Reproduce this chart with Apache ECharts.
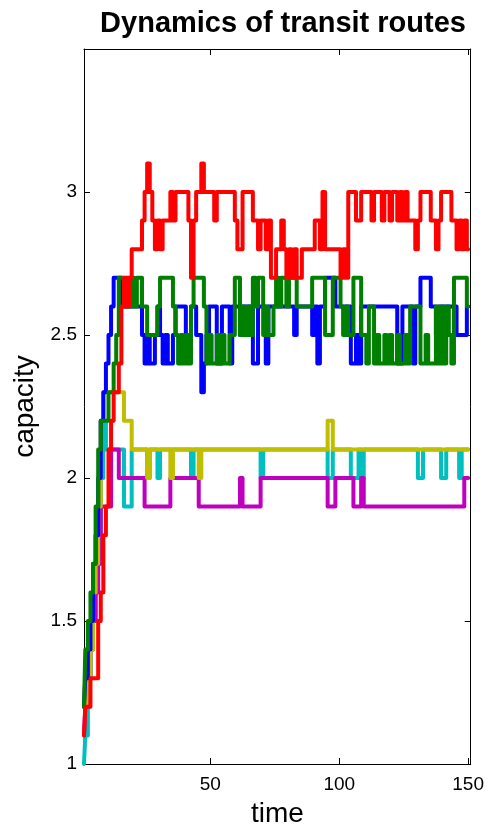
<!DOCTYPE html>
<html>
<head>
<meta charset="utf-8">
<script src="https://cdn.jsdelivr.net/npm/echarts@6/dist/echarts.min.js"></script>
<style>html,body{margin:0;padding:0;background:#fff;}#c{width:487px;height:833px;}</style>
</head>
<body>
<div id="c"></div>
<script>
// time steps run 1..150 (index + 1)
var redValues = [
1.1,1.2,1.2,1.3,1.3,1.3,1.5,1.6,1.8,1.9,
2.1,2.2,2.3,2.3,2.4,2.6,2.7,2.6,2.7,2.8,
2.8,2.8,2.8,2.9,3.0,3.1,3.0,2.9,2.8,2.9,
2.8,2.9,2.9,2.9,3.0,2.9,3.0,3.0,3.0,3.0,
3.0,2.9,2.7,2.9,3.0,3.0,3.1,3.0,3.0,3.0,
3.0,2.9,3.0,3.0,3.0,3.0,3.0,3.0,3.0,2.9,
2.8,2.8,3.0,3.0,3.0,3.0,2.9,2.9,2.8,2.9,
2.9,2.8,2.9,2.7,2.7,2.8,2.8,2.9,2.8,2.7,
2.8,2.7,2.8,2.7,2.7,2.8,2.8,2.8,2.8,2.8,
2.9,2.9,2.8,3.0,2.8,2.8,2.8,2.8,2.8,2.8,
2.7,2.8,2.7,3.0,3.0,3.0,2.9,2.9,3.0,3.0,
3.0,3.0,2.9,3.0,3.0,3.0,2.9,3.0,3.0,2.9,
3.0,3.0,2.9,3.0,2.9,3.0,2.9,2.9,2.9,2.8,
2.9,3.0,3.0,3.0,3.0,2.9,2.9,2.8,2.9,3.0,
3.0,3.0,3.0,2.9,2.9,2.8,2.9,2.8,2.9,2.8];

var blueValues = [
1.2,1.3,1.4,1.5,1.7,1.8,2.0,2.2,2.3,2.4,
2.5,2.6,2.7,2.7,2.7,2.6,2.6,2.6,2.6,2.6,
2.6,2.6,2.6,2.5,2.4,2.5,2.4,2.4,2.5,2.6,
2.5,2.4,2.5,2.4,2.4,2.5,2.6,2.6,2.6,2.6,
2.5,2.5,2.6,2.6,2.5,2.5,2.3,2.4,2.5,2.6,
2.6,2.6,2.4,2.4,2.6,2.6,2.6,2.4,2.6,2.6,
2.6,2.5,2.6,2.6,2.6,2.6,2.4,2.4,2.6,2.6,
2.6,2.4,2.6,2.6,2.6,2.6,2.6,2.6,2.6,2.6,
2.6,2.6,2.5,2.6,2.6,2.6,2.6,2.6,2.6,2.5,
2.6,2.4,2.6,2.6,2.7,2.7,2.7,2.7,2.6,2.6,
2.6,2.6,2.6,2.6,2.4,2.4,2.5,2.4,2.6,2.6,
2.6,2.6,2.6,2.6,2.6,2.6,2.6,2.6,2.6,2.6,
2.6,2.6,2.4,2.4,2.6,2.6,2.6,2.6,2.4,2.6,
2.6,2.7,2.7,2.7,2.7,2.6,2.6,2.5,2.6,2.6,
2.6,2.6,2.6,2.6,2.6,2.5,2.5,2.5,2.5,2.6];

var greenValues = [
1.2,1.4,1.5,1.6,1.7,1.9,2.1,2.2,2.2,2.2,
2.3,2.3,2.4,2.5,2.7,2.7,2.6,2.7,2.6,2.7,
2.6,2.7,2.7,2.6,2.6,2.5,2.5,2.5,2.5,2.6,
2.7,2.7,2.7,2.7,2.7,2.6,2.5,2.4,2.5,2.4,
2.5,2.4,2.6,2.7,2.7,2.7,2.7,2.6,2.4,2.5,
2.4,2.4,2.5,2.4,2.5,2.4,2.4,2.5,2.5,2.7,
2.7,2.5,2.6,2.5,2.6,2.5,2.7,2.6,2.7,2.7,
2.5,2.6,2.5,2.5,2.6,2.7,2.6,2.7,2.7,2.6,
2.7,2.7,2.7,2.6,2.6,2.6,2.6,2.6,2.6,2.7,
2.7,2.7,2.7,2.7,2.5,2.5,2.5,2.7,2.7,2.7,
2.6,2.5,2.6,2.5,2.5,2.7,2.7,2.7,2.5,2.5,
2.4,2.6,2.6,2.4,2.5,2.4,2.4,2.5,2.4,2.5,
2.4,2.4,2.5,2.4,2.4,2.5,2.4,2.6,2.6,2.6,
2.6,2.4,2.4,2.5,2.4,2.4,2.4,2.6,2.4,2.6,
2.4,2.6,2.5,2.4,2.7,2.7,2.7,2.7,2.7,2.6];

var yellowValues = [
1.2,1.2,1.3,1.4,1.6,1.7,1.9,2.2,2.3,2.3,
2.3,2.3,2.3,2.3,2.3,2.3,2.2,2.2,2.2,2.1,
2.1,2.1,2.1,2.1,2.1,2.0,2.1,2.1,2.1,2.1,
2.1,2.1,2.1,2.1,2.0,2.1,2.1,2.1,2.1,2.1,
2.1,2.1,2.1,2.1,2.1,2.0,2.1,2.1,2.1,2.1,
2.1,2.1,2.1,2.1,2.1,2.1,2.1,2.1,2.1,2.1,
2.1,2.1,2.1,2.1,2.1,2.1,2.1,2.1,2.1,2.1,
2.1,2.1,2.1,2.1,2.1,2.1,2.1,2.1,2.1,2.1,
2.1,2.1,2.1,2.1,2.1,2.1,2.1,2.1,2.1,2.1,
2.1,2.1,2.1,2.1,2.1,2.2,2.2,2.1,2.1,2.1,
2.1,2.1,2.1,2.1,2.1,2.1,2.1,2.1,2.1,2.1,
2.1,2.1,2.1,2.1,2.1,2.1,2.1,2.1,2.1,2.1,
2.1,2.1,2.1,2.1,2.1,2.1,2.1,2.1,2.1,2.1,
2.1,2.1,2.1,2.1,2.1,2.1,2.1,2.1,2.1,2.1,
2.1,2.1,2.1,2.1,2.1,2.1,2.1,2.1,2.1,2.1];

var cyanValues = [
1.0,1.1,1.3,1.4,1.5,1.7,1.8,2.0,2.2,2.1,
2.1,2.1,2.1,2.1,2.1,2.1,1.9,1.9,1.9,2.1,
2.1,2.1,2.1,2.1,2.1,2.0,2.1,2.1,2.1,2.0,
2.1,2.1,2.1,2.1,2.1,2.1,2.1,2.1,2.1,2.1,
2.1,2.1,2.0,2.1,2.1,2.1,2.1,2.1,2.1,2.1,
2.1,2.1,2.1,2.1,2.1,2.1,2.1,2.1,2.1,2.1,
2.1,2.1,2.1,2.1,2.1,2.1,2.1,2.1,2.1,2.0,
2.1,2.1,2.1,2.1,2.1,2.1,2.1,2.1,2.1,2.1,
2.1,2.1,2.1,2.1,2.1,2.1,2.1,2.1,2.1,2.1,
2.1,2.1,2.1,2.1,2.1,2.0,2.0,2.1,2.1,2.1,
2.1,2.1,2.1,2.1,2.0,2.0,2.0,2.1,2.0,2.1,
2.1,2.1,2.1,2.1,2.1,2.1,2.1,2.1,2.1,2.1,
2.1,2.1,2.1,2.1,2.1,2.1,2.1,2.1,2.1,2.1,
2.0,2.0,2.1,2.1,2.1,2.1,2.1,2.1,2.1,2.0,
2.0,2.1,2.1,2.1,2.1,2.1,2.0,2.1,2.1,2.1];

var magentaValues = [
1.1,1.2,1.3,1.4,1.5,1.6,1.7,1.9,1.9,1.9,
1.9,2.1,2.1,2.1,2.0,2.0,2.0,2.0,2.0,2.0,
2.0,2.0,2.0,2.0,1.9,1.9,1.9,1.9,1.9,1.9,
1.9,1.9,1.9,1.9,2.0,2.0,2.0,2.0,2.0,2.0,
2.0,2.0,2.0,2.0,2.0,1.9,1.9,1.9,1.9,1.9,
1.9,1.9,1.9,1.9,1.9,1.9,1.9,1.9,1.9,1.9,
1.9,2.0,1.9,1.9,1.9,1.9,1.9,1.9,1.9,2.0,
2.0,2.0,2.0,2.0,2.0,2.0,2.0,2.0,2.0,2.0,
2.0,2.0,2.0,2.0,2.0,2.0,2.0,2.0,2.0,2.0,
2.0,2.0,2.0,2.0,2.0,1.9,1.9,1.9,2.0,2.0,
2.0,2.0,2.0,2.0,2.0,1.9,1.9,1.9,2.0,1.9,
1.9,1.9,1.9,1.9,1.9,1.9,1.9,1.9,1.9,1.9,
1.9,1.9,1.9,1.9,1.9,1.9,1.9,1.9,1.9,1.9,
1.9,1.9,1.9,1.9,1.9,1.9,1.9,1.9,1.9,1.9,
1.9,1.9,1.9,1.9,1.9,1.9,1.9,1.9,2.0,2.0];

var xTickValues = [50, 100, 150];
var yTickLabels = ['1', '1.5', '2', '2.5', '3'];

var seriesDefs = [
  {name: 'cyan', values: cyanValues, color: '#00bfbf'},
  {name: 'magenta', values: magentaValues, color: '#bf00bf'},
  {name: 'yellow', values: yellowValues, color: '#bfbf00'},
  {name: 'blue', values: blueValues, color: '#0000ff'},
  {name: 'green', values: greenValues, color: '#008000'},
  {name: 'red', values: redValues, color: '#ff0000'}
];

var FONT = '"Liberation Sans", Arial, Helvetica, sans-serif';

function toPairs(vals) {
  return vals.map(function (v, i) { return [i + 1, v]; });
}

var chart = echarts.init(document.getElementById('c'), null, {renderer: 'canvas'});
var axisLine = {show: true, lineStyle: {color: '#000', width: 1}};
chart.setOption({
  animation: false,
  backgroundColor: '#fff',
  title: {
    text: 'Dynamics of transit routes',
    left: 278, top: 4, textAlign: 'center',
    textStyle: {fontFamily: FONT, fontSize: 29, fontWeight: 'bold', color: '#000'}
  },
  grid: {left: 84, right: 15, top: 49, bottom: 60, containLabel: false},
  xAxis: [{
    type: 'value', min: 1, max: 151, position: 'bottom',
    name: 'time', nameLocation: 'middle', nameGap: 36,
    nameTextStyle: {fontFamily: FONT, fontSize: 28, color: '#000'},
    axisLine: axisLine,
    axisTick: {show: true, inside: true, length: 6, customValues: xTickValues, lineStyle: {color: '#000'}},
    axisLabel: {show: true, customValues: xTickValues, fontFamily: FONT, fontSize: 19, color: '#000', margin: 11},
    splitLine: {show: false}
  }, {
    type: 'value', min: 1, max: 151, position: 'top',
    axisLine: axisLine,
    axisTick: {show: true, inside: true, length: 6, customValues: xTickValues, lineStyle: {color: '#000'}},
    axisLabel: {show: false},
    splitLine: {show: false}
  }],
  yAxis: [{
    type: 'value', min: 1, max: 3.5, interval: 0.5, position: 'left',
    name: 'capacity', nameLocation: 'middle', nameGap: 36, nameRotate: 90,
    nameTextStyle: {fontFamily: FONT, fontSize: 28, color: '#000'},
    axisLine: axisLine,
    axisTick: {show: true, inside: true, length: 6, lineStyle: {color: '#000'}},
    axisLabel: {
      fontFamily: FONT, fontSize: 19, color: '#000', margin: 7,
      formatter: function (v) { var s = String(v); return yTickLabels.indexOf(s) >= 0 ? s : ''; }
    },
    splitLine: {show: false}
  }, {
    type: 'value', min: 1, max: 3.5, interval: 0.5, position: 'right',
    axisLine: axisLine,
    axisTick: {show: true, inside: true, length: 6, lineStyle: {color: '#000'}},
    axisLabel: {show: false},
    splitLine: {show: false}
  }],
  series: seriesDefs.map(function (s) {
    return {
      name: s.name, type: 'line', data: toPairs(s.values),
      xAxisIndex: 0, yAxisIndex: 0, step: 'middle',
      showSymbol: false, symbol: 'none',
      lineStyle: {color: s.color, width: 4, join: 'round', cap: 'round'},
      itemStyle: {color: s.color},
      clip: true
    };
  })
});
</script>
</body>
</html>
